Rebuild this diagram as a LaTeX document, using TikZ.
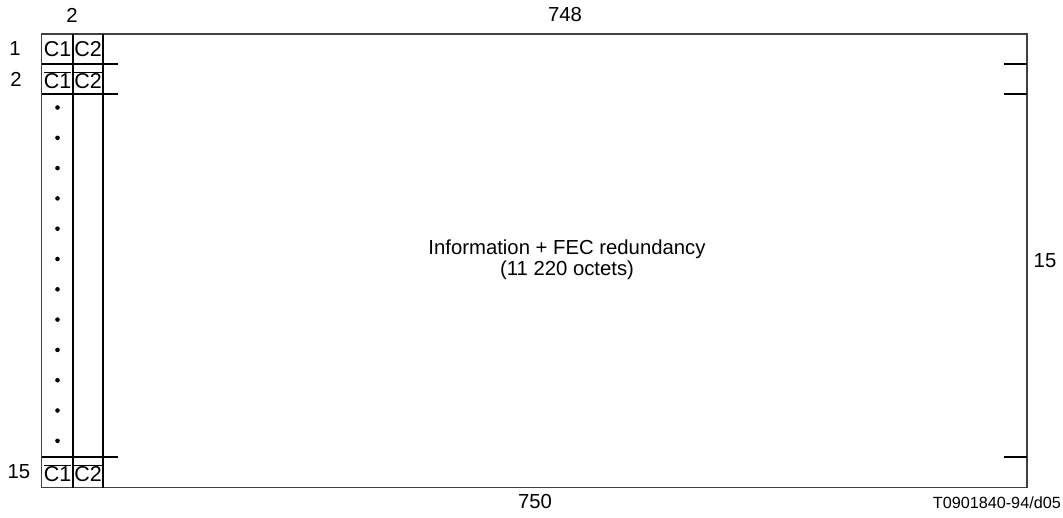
\documentclass[tikz,border=0pt]{standalone}
\usepackage{fontspec}
\setmainfont{Liberation Sans}
\begin{document}
\begin{tikzpicture}[x=1pt,y=-1pt,
  outer/.style={line width=1.4pt,draw=black!75},
  inner/.style={line width=2pt,draw=black},
  lbl/.style={inner sep=0pt,font=\fontsize{20.3}{22}\selectfont},
  cell/.style={inner sep=0pt,font=\fontsize{21.5}{24}\selectfont},
  dot/.style={circle,fill=black,inner sep=0pt,minimum size=4.6pt}]
\useasboundingbox (0,0) rectangle (1063,517);
% frame
\draw[outer] (41.5,34) rectangle (1027,487.5);
% column dividers
\draw[inner] (72.5,34) -- (72.5,487.5);
\draw[inner] (103,34) -- (103,487.5);
% row lines
\foreach \yy in {64,94,457} {
  \draw[inner] (41.5,\yy) -- (118,\yy);
  \draw[inner] (1004,\yy) -- (1027,\yy);
}
% cell texts
\node[cell] (r1c1) at (57.5,49.5) {C1};
\node[cell] (r1c2) at (88,49.5) {C2};
\node[cell] (r2c1) at (57.5,80.5) {$\overline{\mbox{C1}}$};
\node[cell] (r2c2) at (88,80.5) {$\overline{\mbox{C2}}$};
\node[cell] (r15c1) at (57.5,473.5) {$\overline{\mbox{C1}}$};
\node[cell] (r15c2) at (88,473.5) {$\overline{\mbox{C2}}$};
% dots
\foreach \i in {0,...,11} {
  \node[dot] (d\i) at (57.5,{107.5+30.3*\i}) {};
}
% labels
\node[lbl] (top2) at (72,15) {2};
\node[lbl] (top748) at (565,15) {748};
\node[lbl] (row1) at (15,49) {1};
\node[lbl] (row2) at (16,79) {2};
\node[lbl] (row15) at (19,472) {15};
\node[lbl] (right15) at (1045,261) {15};
\node[lbl] (bot750) at (535,502) {750};
\node[lbl,anchor=east,font=\fontsize{16.2}{18}\selectfont] (code) at (1061,503) {T0901840-94/d05};
\node[lbl,align=center,font=\fontsize{20.3}{21}\selectfont] (center) at (567,260) {Information + FEC redundancy\\(11 220 octets)};
\end{tikzpicture}
\end{document}
